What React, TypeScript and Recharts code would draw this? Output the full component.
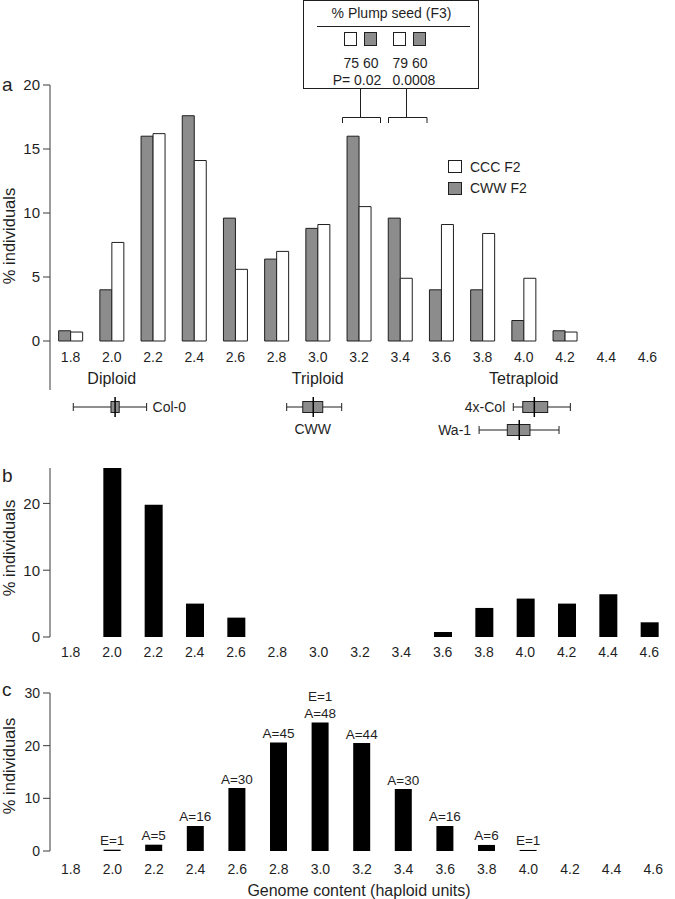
import { Bar, BarChart, ComposedChart, LabelList, Legend, XAxis, YAxis } from 'recharts';

const FONT = '"Liberation Sans", Arial, Helvetica, sans-serif';
const INK = '#1f1f1f';
const AXIS = '#3a3a3a';
const GREY = '#8c8c8c';

// genome content classes (haploid units)
const GENOME = ['1.8', '2.0', '2.2', '2.4', '2.6', '2.8', '3.0', '3.2', '3.4', '3.6', '3.8', '4.0', '4.2', '4.4', '4.6'];

// a: % individuals per class, F2 populations
const CWW_F2 = [0.8, 4.0, 16.0, 17.6, 9.6, 6.4, 8.8, 16.0, 9.6, 4.0, 4.0, 1.6, 0.8, 0, 0];
const CCC_F2 = [0.7, 7.7, 16.2, 14.1, 5.6, 7.0, 9.1, 10.5, 4.9, 9.1, 8.4, 4.9, 0.7, 0, 0];
const PLOIDY: Record<string, string> = { '2.0': 'Diploid', '3.0': 'Triploid', '4.0': 'Tetraploid' };

// b
const PANEL_B = [0, 25.3, 19.8, 5.0, 2.9, 0, 0, 0, 0, 0.75, 4.35, 5.75, 5.0, 6.4, 2.2];

// c, with counts above the bars
const PANEL_C = [0, 0.25, 1.2, 4.75, 11.95, 20.6, 24.4, 20.5, 11.75, 4.75, 1.15, 0.2, 0, 0, 0];
const PANEL_C_NOTES = ['', 'E=1', 'A=5', 'A=16', 'A=30', 'A=45', 'E=1\nA=48', 'A=44', 'A=30', 'A=16', 'A=6', 'E=1', '', '', ''];

// parental lines: [min, q1, median, q3, max] in haploid units
const BOX_NAMES = ['Col-0', 'CWW', '4x-Col', 'Wa-1'];
const BOX_ROW = [1, 1, 1, 2];
const BOX_STATS = [
  [1.813, 1.996, 2.016, 2.036, 2.169],
  [2.849, 2.927, 2.978, 3.024, 3.116],
  [3.949, 3.995, 4.051, 4.116, 4.226],
  [3.783, 3.92, 3.978, 4.03, 4.171],
];
const BOX_LABEL_AT = ['right', 'below', 'left', 'left'];

// class edges (tick marks sit between classes)
const EDGES = [...GENOME.map((g) => Math.round((+g - 0.1) * 10) / 10), Math.round((+GENOME[GENOME.length - 1] + 0.1) * 10) / 10];

const dataA = GENOME.map((g, i) => ({ g, cww: CWW_F2[i], ccc: CCC_F2[i] }));
const dataB = GENOME.map((g, i) => ({ g, v: PANEL_B[i] }));
const dataC = GENOME.map((g, i) => ({ g, v: PANEL_C[i], note: PANEL_C_NOTES[i] }));
const dataBox = BOX_NAMES.map((name, i) => ({
  name,
  row: BOX_ROW[i],
  stats: BOX_STATS[i],
  at: BOX_LABEL_AT[i],
  whisker: [BOX_STATS[i][0], BOX_STATS[i][4]],
}));

function BoxPlot(props: any) {
  const { x, y, width, height, payload } = props;
  const [lo, q1, med, q3, hi] = payload.stats;
  const px = (v: number) => x + ((v - lo) / (hi - lo)) * width;
  const cy = y + height / 2;
  const bh = 11;
  const cap = 4;
  let label = null;
  if (payload.at === 'right') {
    label = (
      <text x={x + width + 6} y={cy} dominantBaseline="central" fontSize={14} fill={INK}>
        {payload.name}
      </text>
    );
  } else if (payload.at === 'left') {
    label = (
      <text x={x - 8} y={cy} textAnchor="end" dominantBaseline="central" fontSize={14} fill={INK}>
        {payload.name}
      </text>
    );
  } else {
    label = (
      <text x={(px(q1) + px(q3)) / 2} y={cy + 22} textAnchor="middle" dominantBaseline="central" fontSize={14} fill={INK}>
        {payload.name}
      </text>
    );
  }
  return (
    <g fontFamily={FONT}>
      <line x1={x} x2={x + width} y1={cy} y2={cy} stroke={INK} />
      <line x1={x} x2={x} y1={cy - cap} y2={cy + cap} stroke={INK} />
      <line x1={x + width} x2={x + width} y1={cy - cap} y2={cy + cap} stroke={INK} />
      <rect x={px(q1)} y={cy - bh / 2} width={px(q3) - px(q1)} height={bh} fill={GREY} stroke={INK} />
      <line x1={px(med)} x2={px(med)} y1={y} y2={y + height} stroke="#000" strokeWidth={1.5} />
      {label}
    </g>
  );
}

function NoteLabel(props: any) {
  const { x, y, width, value } = props;
  if (!value) return null;
  const lines = String(value).split('\n');
  return (
    <g>
      {lines.map((line, i) => (
        <text
          key={i}
          x={x + width / 2}
          y={y - 4.5 - (lines.length - 1 - i) * 16.7}
          textAnchor="middle"
          fontSize={13.5}
          fontFamily={FONT}
          fill={INK}
        >
          {line}
        </text>
      ))}
    </g>
  );
}

function LegendBox(props: any) {
  // CCC above CWW, as in the figure
  const items = [...(props.payload ?? [])].sort((a: any, b: any) => String(a.value).localeCompare(String(b.value)));
  return (
    <div style={{ fontFamily: FONT, fontSize: 14, color: INK }}>
      {items.map((it: any) => (
        <div key={it.value} style={{ display: 'flex', alignItems: 'center', height: 21.5 }}>
          <span
            style={{
              display: 'inline-block',
              width: 12,
              height: 11,
              background: it.color,
              border: `1px solid ${INK}`,
              marginRight: 8,
            }}
          />
          {it.value}
        </div>
      ))}
    </div>
  );
}

function Overlay() {
  const yTitle = (cy: number) => (
    <text
      transform={`translate(9,${cy}) rotate(-90)`}
      textAnchor="middle"
      dominantBaseline="central"
      fontSize={16.5}
      fill={INK}
    >
      % individuals
    </text>
  );
  return (
    <svg
      width={675}
      height={899}
      style={{ position: 'absolute', left: 0, top: 0, pointerEvents: 'none' }}
      fontFamily={FONT}
    >
      <text x={2} y={91} fontSize={19} fill={INK}>a</text>
      <text x={2} y={482} fontSize={19} fill={INK}>b</text>
      <text x={2} y={696} fontSize={19} fill={INK}>c</text>
      {yTitle(236)}
      {yTitle(548)}
      {yTitle(766)}
      <line x1={50} y1={341} x2={50} y2={390} stroke={AXIS} />
      <text x={359} y={890} textAnchor="middle" dominantBaseline="central" fontSize={16} fill={INK}>
        Genome content (haploid units)
      </text>

      {/* % plump seed inset */}
      <rect x={303.5} y={0.5} width={175} height={88} fill="#fff" stroke={INK} />
      <text x={391.5} y={12.5} textAnchor="middle" dominantBaseline="central" fontSize={14} fill={INK}>
        % Plump seed (F3)
      </text>
      <line x1={317} x2={470} y1={26.5} y2={26.5} stroke={INK} />
      <rect x={344.5} y={32.5} width={12} height={13} fill="#fff" stroke={INK} />
      <rect x={364.5} y={32.5} width={12} height={13} fill={GREY} stroke={INK} />
      <rect x={393.5} y={32.5} width={12} height={13} fill="#fff" stroke={INK} />
      <rect x={413.5} y={32.5} width={12} height={13} fill={GREY} stroke={INK} />
      <text x={361} y={63} textAnchor="middle" dominantBaseline="central" fontSize={14} fill={INK}>75 60</text>
      <text x={410} y={63} textAnchor="middle" dominantBaseline="central" fontSize={14} fill={INK}>79 60</text>
      <text x={357} y={79.5} textAnchor="middle" dominantBaseline="central" fontSize={14} fill={INK}>P= 0.02</text>
      <text x={414} y={79.5} textAnchor="middle" dominantBaseline="central" fontSize={14} fill={INK}>0.0008</text>
      <path d="M360.5 88.5 V117.5 M342.5 123 V117.5 H380.5 V123" fill="none" stroke={INK} />
      <path d="M406.5 88.5 V117.5 M388.5 123 V117.5 H427 V123" fill="none" stroke={INK} />
    </svg>
  );
}

export default function App() {
  const yTick = (fs: number) => ({ fontSize: fs, fill: INK, fontFamily: FONT });
  return (
    <div style={{ position: 'absolute', left: 0, top: 0, width: 675, height: 899, background: '#fff', fontFamily: FONT }}>
      {/* a */}
      <div style={{ position: 'absolute', left: 0, top: 0 }}>
        <BarChart width={675} height={401} data={dataA} margin={{ top: 85, right: 7, left: 0, bottom: 0 }} barCategoryGap="21%" barGap={0}>
          <XAxis xAxisId="edge" type="number" domain={[1.7, 4.7]} allowDataOverflow ticks={EDGES} tick={false} tickSize={5} height={0} stroke={AXIS} />
          <XAxis xAxisId="cat" dataKey="g" interval={0} axisLine={false} tickLine={false} tickSize={0} tickMargin={11} height={30} tick={yTick(14)} />
          <XAxis
            xAxisId="ploidy"
            dataKey="g"
            interval={0}
            axisLine={false}
            tickLine={false}
            tickSize={0}
            tickMargin={2}
            height={30}
            tick={yTick(16)}
            tickFormatter={(g: string) => PLOIDY[g] ?? ''}
          />
          <YAxis width={50} domain={[0, 20]} ticks={[0, 5, 10, 15, 20]} tickSize={7} tickMargin={3} stroke={AXIS} tick={yTick(15)} />
          <Bar xAxisId="cat" dataKey="cww" name="CWW F2" fill={GREY} stroke={INK} isAnimationActive={false} />
          <Bar xAxisId="cat" dataKey="ccc" name="CCC F2" fill="#fff" stroke={INK} isAnimationActive={false} />
          <Legend layout="vertical" align="center" verticalAlign="middle" content={LegendBox} wrapperStyle={{ left: 448, top: 156, width: 'auto' }} />
        </BarChart>
      </div>

      {/* parental box plots */}
      <div style={{ position: 'absolute', left: 0, top: 395 }}>
        <ComposedChart layout="vertical" width={675} height={46} data={dataBox} margin={{ top: 0, right: 7, left: 50, bottom: 0 }}>
          <XAxis type="number" domain={[1.7, 4.7]} allowDataOverflow hide />
          <YAxis type="number" dataKey="row" domain={[0.5, 2.5]} hide />
          <Bar dataKey="whisker" barSize={20} shape={BoxPlot} isAnimationActive={false} />
        </ComposedChart>
      </div>

      {/* b */}
      <div style={{ position: 'absolute', left: 0, top: 460 }}>
        <BarChart width={675} height={207} data={dataB} margin={{ top: 8, right: 5, left: 0, bottom: 0 }} barSize={18}>
          <XAxis xAxisId="edge" type="number" domain={[1.7, 4.7]} allowDataOverflow ticks={EDGES} tick={false} tickSize={4} height={0} stroke={AXIS} />
          <XAxis xAxisId="cat" dataKey="g" interval={0} axisLine={false} tickLine={false} tickSize={0} tickMargin={10} height={30} tick={yTick(14)} />
          <YAxis width={50} domain={[0, 25.3]} ticks={[0, 10, 20]} tickSize={7} tickMargin={3} stroke={AXIS} tick={yTick(15)} />
          <Bar xAxisId="cat" dataKey="v" fill="#000" isAnimationActive={false} />
        </BarChart>
      </div>

      {/* c */}
      <div style={{ position: 'absolute', left: 0, top: 682 }}>
        <BarChart width={675} height={195} data={dataC} margin={{ top: 11, right: 1, left: 0, bottom: 0 }} barSize={17}>
          <XAxis xAxisId="edge" type="number" domain={[1.7, 4.7]} allowDataOverflow ticks={EDGES} tick={false} tickSize={4} height={0} stroke={AXIS} />
          <XAxis xAxisId="cat" dataKey="g" interval={0} axisLine={false} tickLine={false} tickSize={0} tickMargin={13} height={26} tick={yTick(14)} />
          <YAxis width={50} domain={[0, 30]} ticks={[0, 10, 20, 30]} tickSize={7} tickMargin={3} stroke={AXIS} tick={yTick(14)} />
          <Bar xAxisId="cat" dataKey="v" fill="#000" isAnimationActive={false}>
            <LabelList dataKey="note" content={NoteLabel} />
          </Bar>
        </BarChart>
      </div>

      <Overlay />
    </div>
  );
}
